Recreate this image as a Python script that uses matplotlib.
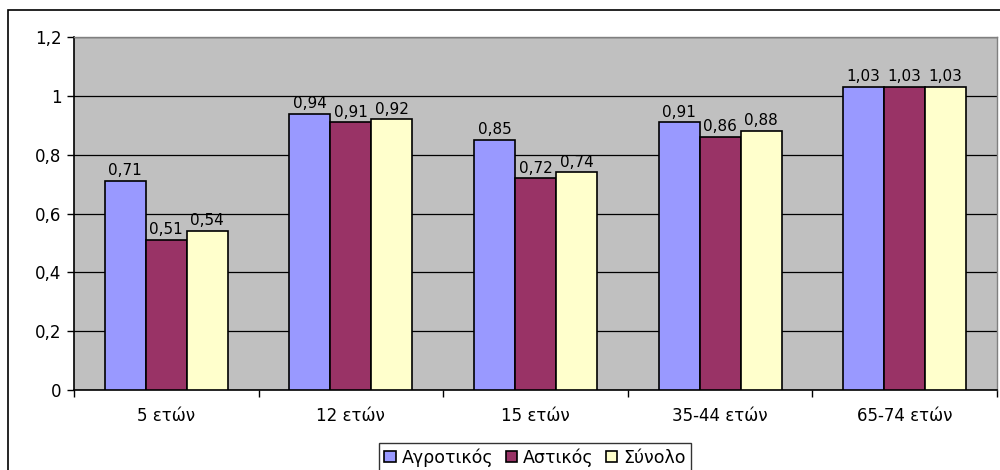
import numpy as np
import matplotlib
matplotlib.use('Agg')
import matplotlib.pyplot as plt
from matplotlib.patches import Rectangle

plt.rcParams['font.family'] = ['DejaVu Sans']

categories = ['5 ετών', '12 ετών', '15 ετών', '35-44 ετών', '65-74 ετών']
series_names = ['Αγροτικός', 'Αστικός', 'Σύνολο']
agrotikos = [0.71, 0.94, 0.85, 0.91, 1.03]
astikos = [0.51, 0.91, 0.72, 0.86, 1.03]
synolo = [0.54, 0.92, 0.74, 0.88, 1.03]
colors = ['#9999FF', '#993366', '#FFFFCC']

fig = plt.figure(figsize=(10, 4.7), dpi=100)
# outer chart frame (clipped at right and bottom like the original)
fig.patches.append(Rectangle((0.008, -0.1), 1.2, 1.079, transform=fig.transFigure,
                             fill=False, edgecolor='black', linewidth=1.2))
ax = fig.add_axes([0.074, 0.170, 0.923, 0.751])
ax.set_facecolor('#C0C0C0')

x = np.arange(len(categories))
bw = 1 / 4.5
for i, (vals, name) in enumerate(zip([agrotikos, astikos, synolo], series_names)):
    pos = x + (i - 1) * bw
    ax.bar(pos, vals, width=bw, color=colors[i], edgecolor='black', linewidth=1.2,
           label=name, zorder=3)
    for p, v in zip(pos, vals):
        ax.annotate(f'{v:.2f}'.replace('.', ','), (p, v), xytext=(0, 2),
                    textcoords='offset points', ha='center', va='bottom',
                    fontsize=11, zorder=4)

ax.set_xlim(-0.5, len(categories) - 0.5)
ax.set_ylim(0, 1.2)
yt = np.arange(0, 1.21, 0.2)
ax.set_yticks(yt)
ax.set_yticklabels([('%g' % round(t, 1)).replace('.', ',') for t in yt], fontsize=12)
ax.yaxis.grid(True, color='black', linewidth=0.9, zorder=1)
ax.set_axisbelow(True)

ax.set_xticks(x)
ax.set_xticklabels(categories, fontsize=12)
ax.set_xticks(np.arange(-0.5, len(categories)), minor=True)
ax.tick_params(axis='x', which='major', length=0, pad=12)
ax.tick_params(axis='x', which='minor', length=5, direction='out', width=1)
ax.tick_params(axis='y', length=5, direction='out', width=1, pad=4)

for s in ['left', 'bottom']:
    ax.spines[s].set_color('black')
    ax.spines[s].set_linewidth(1.2)
for s in ['top', 'right']:
    ax.spines[s].set_color('#808080')
    ax.spines[s].set_linewidth(1)

leg = fig.legend(loc='upper center', bbox_to_anchor=(0.535, 1 - 443 / 470), ncol=3,
                 fontsize=12.5, frameon=True, fancybox=False, edgecolor='black',
                 handlelength=0.65, handleheight=0.65, handletextpad=0.35,
                 columnspacing=0.7, borderpad=0.3, borderaxespad=0)
leg.get_frame().set_linewidth(1)

fig.savefig('out.png', dpi=100)
